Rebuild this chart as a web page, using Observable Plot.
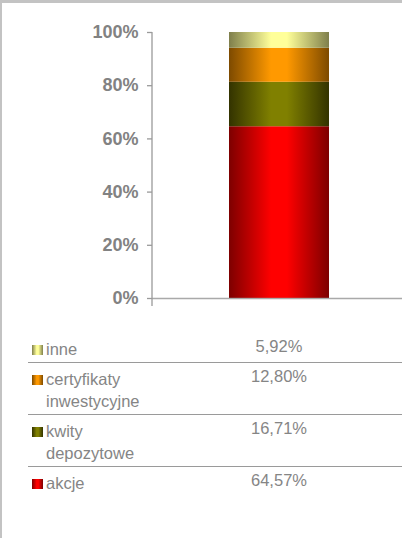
<!DOCTYPE html>
<html>
<head>
<meta charset="utf-8">
<script src="https://cdn.jsdelivr.net/npm/d3@7"></script>
<script src="https://cdn.jsdelivr.net/npm/@observablehq/plot@0.6"></script>
<style>
  html, body { margin: 0; padding: 0; background: #fff; }
  #page { position: relative; width: 402px; height: 538px; overflow: hidden; font-family: "Liberation Sans", Arial, sans-serif; }
  #chart { position: absolute; left: 0; top: 0; }
  .bTop { position: absolute; left: 0; top: 0; width: 402px; height: 3px; background: #c3c3c3; }
  .bLeft { position: absolute; left: 0; top: 0; width: 2px; height: 538px; background: #c3c3c3; }
  #legend { position: absolute; left: 28px; top: 333px; width: 374px; color: #858585; font-size: 16.5px; line-height: 22px; }
  .row { display: flex; padding: 5px 0 2px 0; border-bottom: 1.3px solid #9a9a9a; }
  .row:last-child { border-bottom: none; }
  .lab { width: 150px; display: flex; padding-left: 4px; box-sizing: border-box; }
  .sw { flex: none; width: 11px; height: 10px; margin: 7px 3px 0 0; }
  .txt { width: 112px; }
  .val { width: 202px; text-align: center; position: relative; top: -3px; }
</style>
</head>
<body>
<div id="page">
  <div id="chart"></div>
  <div id="legend"></div>
  <div class="bTop"></div>
  <div class="bLeft"></div>
</div>
<script>
// ---- data ----
const group = "portfel";
const categories = ["akcje", "kwity depozytowe", "certyfikaty inwestycyjne", "inne"];
const shares = [64.57, 16.71, 12.80, 5.92];
const yTicks = [0, 20, 40, 60, 80, 100];

// ---- styles (gradient edge / centre colours per category) ----
const edgeColors = ["#7d0000", "#333300", "#7d4a00", "#7f7f4c"];
const centerColors = ["#ff0000", "#808000", "#ff9900", "#ffff99"];

const rows = categories.map((c, i) => ({group, category: c, share: shares[i], fill: `url(#grad${i})`}));

const chart = Plot.plot({
  width: 402,
  height: 310,
  marginLeft: 152,
  marginRight: 0,
  marginTop: 32,
  marginBottom: 12,
  style: {background: "transparent", fontFamily: "'Liberation Sans', Arial, sans-serif", overflow: "visible"},
  x: {domain: [group], padding: 0.42, axis: null, range: [156, 402]},
  y: {domain: [0, 100], axis: null},
  color: {type: "identity"},
  marks: [
    Plot.barY(rows, {x: "group", y: "share", fill: "fill"}),
    Plot.ruleY([0], {stroke: "#9a9a9a", strokeOpacity: 0.85, strokeWidth: 1.5}),
    Plot.axisY({ticks: yTicks, tickSize: 5, tickPadding: 9, tickFormat: d => d + "%", label: null,
      color: "#828282", stroke: "#9a9a9a", strokeWidth: 1.3, fontWeight: "bold", fontSize: 18}),
    (index, scales, values, dims) => {
      const line = document.createElementNS("http://www.w3.org/2000/svg", "line");
      line.setAttribute("x1", dims.marginLeft);
      line.setAttribute("x2", dims.marginLeft);
      line.setAttribute("y1", scales.y(100));
      line.setAttribute("y2", scales.y(0) + 8);
      line.setAttribute("stroke", "#9a9a9a");
      line.setAttribute("stroke-width", 1.3);
      return line;
    }
  ]
});

const svg = d3.select(chart);
const defs = svg.insert("defs", ":first-child");
categories.forEach((c, i) => {
  const g = defs.append("linearGradient").attr("id", "grad" + i)
    .attr("x1", 0).attr("x2", 1).attr("y1", 0).attr("y2", 0);
  [[0, edgeColors[i]], [0.42, centerColors[i]], [0.58, centerColors[i]], [1, edgeColors[i]]]
    .forEach(([o, col]) => g.append("stop").attr("offset", o).attr("stop-color", col));
});
document.getElementById("chart").appendChild(chart);

// ---- legend table (top to bottom = reverse stack order) ----
const legend = document.getElementById("legend");
const fmt = v => v.toFixed(2).replace(".", ",") + "%";
categories.map((c, i) => i).reverse().forEach(i => {
  const row = document.createElement("div");
  row.className = "row";
  row.innerHTML = `<div class="lab"><span class="sw" style="background:linear-gradient(to right, ${edgeColors[i]}, ${centerColors[i]} 42%, ${centerColors[i]} 58%, ${edgeColors[i]})"></span><span class="txt">${categories[i]}</span></div><div class="val">${fmt(shares[i])}</div>`;
  legend.appendChild(row);
});
</script>
</body>
</html>
